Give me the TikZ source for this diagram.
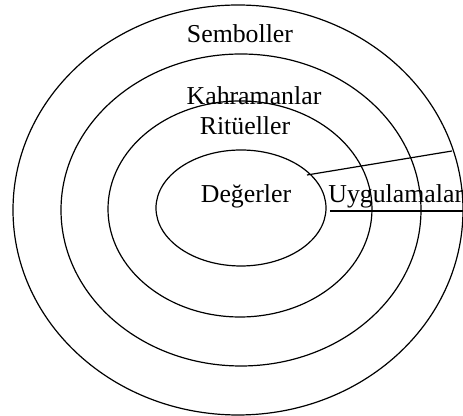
\documentclass[tikz,border=0pt]{standalone}
\usepackage{fontspec}
\setmainfont{Liberation Serif}
\usetikzlibrary{positioning}

\begin{document}
\begin{tikzpicture}[
      x=0.5pt, y=-0.5pt,
      ring/.style={draw=black, line width=0.6pt},
      lbl/.style={inner sep=0pt, font=\fontsize{12.9}{15}\selectfont},
      rule/.style={draw=black, line width=0.6pt}
    ]
      \useasboundingbox (0,0) rectangle (463,416);
      \draw[ring] (238,210) ellipse [x radius=225, y radius=205];
      \draw[ring] (241,210) ellipse [x radius=180, y radius=156];
      \draw[ring] (240,209) ellipse [x radius=132, y radius=108];
      \draw[ring] (241,208) ellipse [x radius=85, y radius=58];
      \node[lbl, anchor=base] (sem) at (240,43) {Semboller};
      \node[lbl, anchor=base] (kah) at (254,105) {Kahramanlar};
      \node[lbl, anchor=base] (rit) at (245,135) {Ritüeller};
      \node[lbl, anchor=base] (deg) at (246,203) {Değerler};
      \node[lbl, anchor=base west] (uyg) at (328,203) {Uygulamalar};
      \coordinate (pin) at (307,175);
      \coordinate (tip) at (452,151);
      \coordinate (ulA) at (330,211);
      \coordinate (ulB) at (463,211);
      \draw[rule] (pin) -- (tip);
      \draw[rule] (ulA) -- (ulB);
    \end{tikzpicture}
\end{document}
